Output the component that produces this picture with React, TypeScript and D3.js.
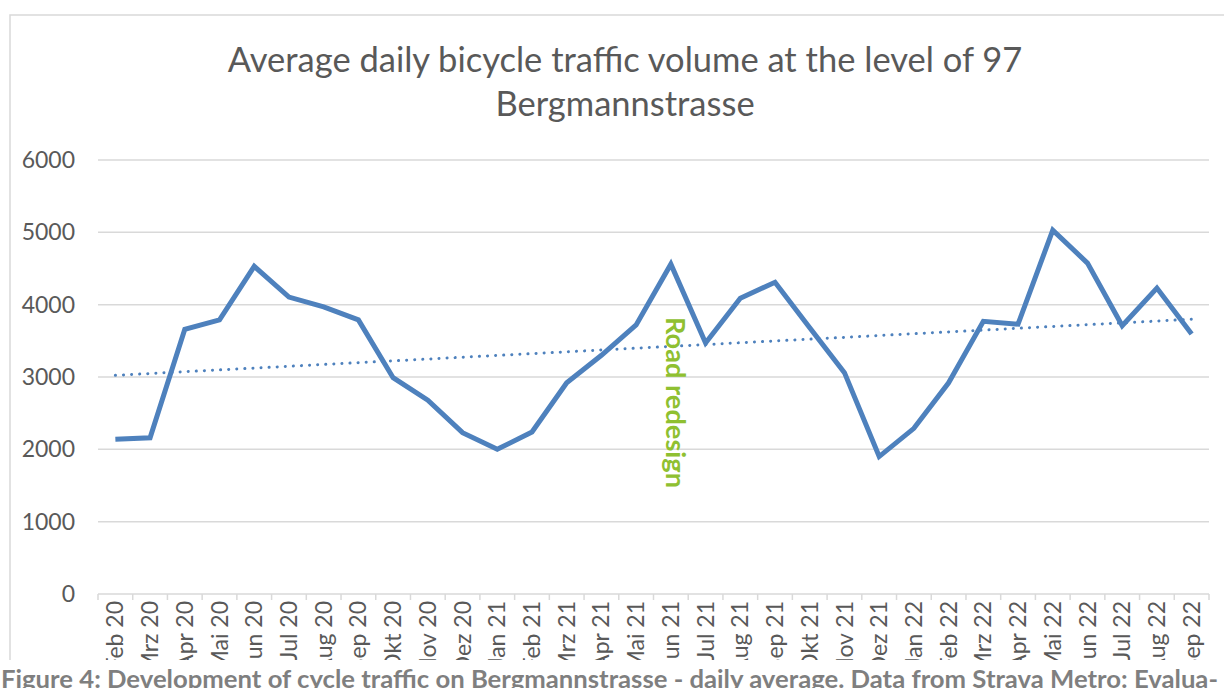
import React from "react";
import * as d3 from "d3";

const months = [
  "Feb 20", "Mrz 20", "Apr 20", "Mai 20", "Jun 20", "Jul 20", "Aug 20", "Sep 20",
  "Okt 20", "Nov 20", "Dez 20", "Jan 21", "Feb 21", "Mrz 21", "Apr 21", "Mai 21",
  "Jun 21", "Jul 21", "Aug 21", "Sep 21", "Okt 21", "Nov 21", "Dez 21", "Jan 22",
  "Feb 22", "Mrz 22", "Apr 22", "Mai 22", "Jun 22", "Jul 22", "Aug 22", "Sep 22",
];

const dailyAverage = [
  2140, 2160, 3660, 3790, 4530, 4105, 3970, 3790,
  2990, 2680, 2230, 2000, 2240, 2920, 3300, 3720,
  4560, 3470, 4090, 4310, 3680, 3060, 1900, 2290,
  2920, 3770, 3730, 5030, 4575, 3710, 4230, 3595,
];

const yTicks = [0, 1000, 2000, 3000, 4000, 5000, 6000];

const titleLines = [
  "Average daily bicycle traffic volume at the level of 97",
  "Bergmannstrasse",
];

const annotationMonth = "Jun 21";
const annotationText = "Road redesign";

const caption =
  "Figure 4: Development of cycle traffic on Bergmannstrasse - daily average. Data from Strava Metro: Evalua-";

const W = 1224;
const H = 688;
const font = "Lato, 'Open Sans', sans-serif";

const App = () => {
  const x = d3.scaleBand<string>().domain(months).range([98, 1209]).padding(0);
  const y = d3.scaleLinear().domain([0, 6000]).range([594, 160]);
  const cx = (m: string) => (x(m) as number) + x.bandwidth() / 2;

  // linear trendline, least squares over the month index
  const n = dailyAverage.length;
  const idx = d3.range(n);
  const mx = d3.mean(idx) as number;
  const my = d3.mean(dailyAverage) as number;
  const slope =
    d3.sum(idx, (i) => (i - mx) * (dailyAverage[i] - my)) /
    d3.sum(idx, (i) => (i - mx) * (i - mx));
  const intercept = my - slope * mx;

  const line = d3
    .line<number>()
    .x((_, i) => cx(months[i]))
    .y((d) => y(d));

  const boundaries = d3.range(months.length + 1).map((i) => 98 + i * x.step());

  return (
    <svg
      width={W}
      height={H}
      style={{ position: "absolute", left: 0, top: 0, background: "#fff" }}
      fontFamily={font}
    >
      {/* chart frame */}
      <rect x={10} y={15} width={W + 20} height={H} fill="#fff" stroke="#d9d9d9" strokeWidth={1.5} />

      {/* title */}
      {titleLines.map((t, i) => (
        <text key={t} x={625} y={72 + i * 44} textAnchor="middle" fontSize={34.5} fill="#595959">
          {t}
        </text>
      ))}

      {/* gridlines */}
      {yTicks.map((t) => (
        <g key={t}>
          <line x1={98} x2={1209} y1={y(t)} y2={y(t)} stroke="#d9d9d9" strokeWidth={1.5} />
          <text x={75} y={y(t)} dy="0.35em" textAnchor="end" fontSize={23} fill="#595959">
            {t}
          </text>
        </g>
      ))}

      {/* category ticks */}
      {boundaries.map((bx, i) => (
        <line key={i} x1={bx} x2={bx} y1={y(0)} y2={y(0) + 6} stroke="#d9d9d9" strokeWidth={1.5} />
      ))}

      {/* x labels */}
      {months.map((m) => (
        <text
          key={m}
          transform={`translate(${cx(m)},${y(0) + 7}) rotate(-90)`}
          dy="0.35em"
          textAnchor="end"
          fontSize={23}
          fill="#595959"
        >
          {m}
        </text>
      ))}

      {/* trendline */}
      <line
        x1={cx(months[0])}
        x2={cx(months[n - 1])}
        y1={y(intercept)}
        y2={y(intercept + slope * (n - 1))}
        stroke="#4e81bd"
        strokeWidth={3}
        strokeDasharray="0.1 8"
        strokeLinecap="round"
      />

      {/* series */}
      <path
        d={line(dailyAverage) as string}
        fill="none"
        stroke="#4e81bd"
        strokeWidth={5}
        strokeLinejoin="miter"
      />

      {/* annotation */}
      <text
        transform={`translate(${cx(annotationMonth) - 5},${317}) rotate(90)`}
        textAnchor="start"
        fontSize={26}
        fontWeight="bold"
        fill="#8fc031"
        textLength={171}
        lengthAdjust="spacingAndGlyphs"
      >
        {annotationText}
      </text>

      {/* caption overlay */}
      <rect x={0} y={660} width={W} height={H - 660} fill="#fff" />
      <text
        x={1}
        y={688}
        fontSize={24}
        fontWeight="bold"
        fill="#7f7f7f"
        textLength={1217}
        lengthAdjust="spacingAndGlyphs"
      >
        {caption}
      </text>
    </svg>
  );
};

export default App;
